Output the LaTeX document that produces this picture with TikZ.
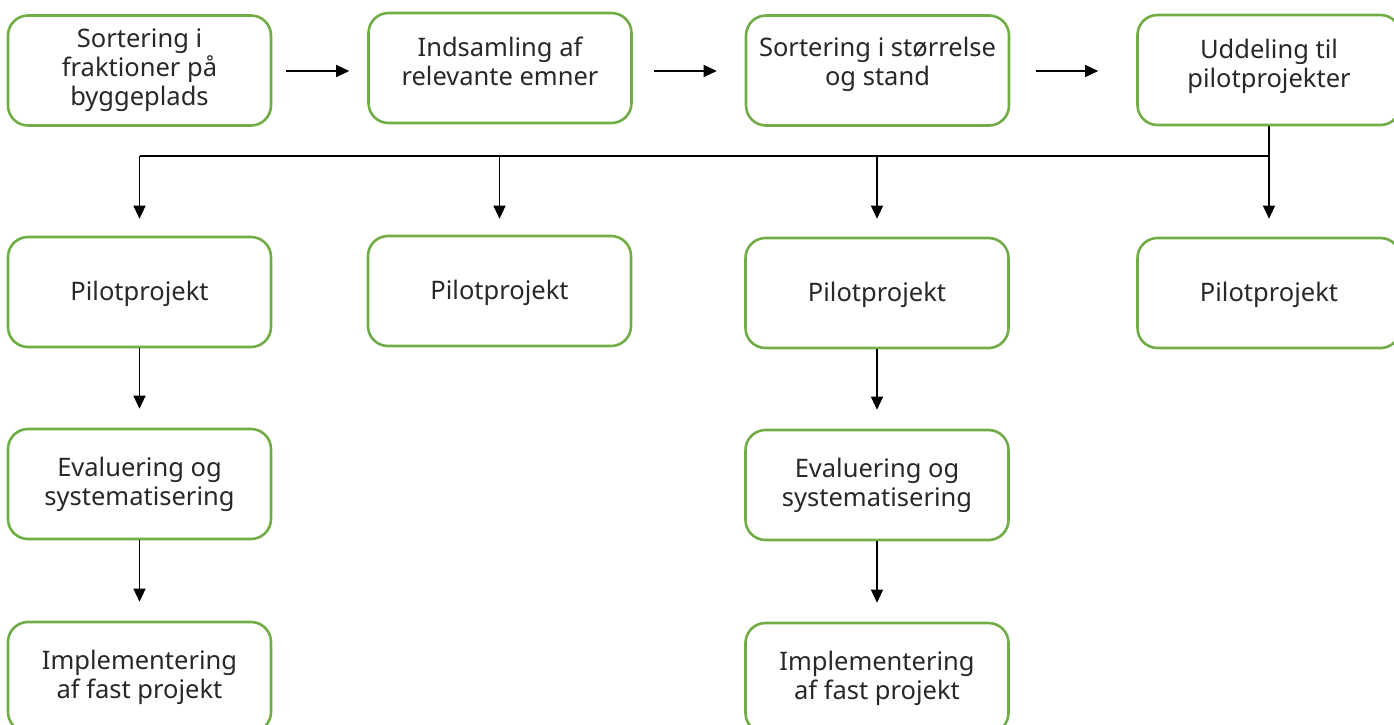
\documentclass[tikz,border=0pt]{standalone}
\usepackage{fontspec}
\setmainfont{Noto Sans}
\usetikzlibrary{arrows.meta,calc}
\definecolor{boxgreen}{RGB}{112,173,71}
\definecolor{txt}{RGB}{40,40,40}
\tikzset{
  box/.style={draw=boxgreen, line width=2.6pt, rounded corners=20pt, fill=white,
    minimum width=263pt, minimum height=110pt, inner sep=0pt, align=center,
    text=txt, font=\fontsize{25.5}{29}\selectfont},
  boxtext/.style={align=center, text=txt, font=\fontsize{25.5}{29}\selectfont, inner sep=0pt},
  arr/.style={draw=black, line width=1.2pt, -{Triangle[width=12pt,length=13pt]}},
  bus/.style={draw=black, line width=1.1pt}
}
\begin{document}
\begin{tikzpicture}[x=1pt,y=-1pt]
\useasboundingbox (0,0) rectangle (1394,724);
\clip (0,0) rectangle (1394,724);
\node[box] (b1) at (139.5,70.5) {Sortering i\\fraktioner på\\byggeplads};
\node[box, label={[boxtext,yshift=7pt]center:{Indsamling af\\relevante emner}}] (b2) at (500,68) {};
\node[box, label={[boxtext,yshift=6pt]center:{Sortering i størrelse\\og stand}}] (b3) at (877.5,70.5) {};
\node[box, label={[boxtext,yshift=4pt]center:{Uddeling til\\pilotprojekter}}] (b4) at (1269,70) {};
\node[box, label={[boxtext,yshift=-2pt]center:{Pilotprojekt}}] (p1) at (139.5,292) {};
\node[box, label={[boxtext,yshift=-2pt]center:{Pilotprojekt}}] (p2) at (499.5,291) {};
\node[box, label={[boxtext,yshift=-2pt]center:{Pilotprojekt}}] (p3) at (877,293) {};
\node[box, label={[boxtext,yshift=-2pt]center:{Pilotprojekt}}] (p4) at (1269,293) {};
\node[box] (e1) at (139.5,484) {Evaluering og\\systematisering};
\node[box] (e2) at (877,485) {Evaluering og\\systematisering};
\node[box] (i1) at (139.5,677) {Implementering\\af fast projekt};
\node[box] (i2) at (877,678) {Implementering\\af fast projekt};
\coordinate (busy) at (0,156);
% horizontal arrows
\draw[arr, shorten <=14pt, shorten >=18pt] ($(b1.east)+(0,0.5)$) -- ($(b1.east -| b2.west)+(0,0.5)$);
\draw[arr, shorten <=21pt, shorten >=28pt] ($(b2.east)+(0,3)$) -- ($(b2.east -| b3.west)+(0,3)$);
\draw[arr, shorten <=26pt, shorten >=38pt] ($(b3.east)+(0,0.5)$) -- ($(b3.east -| b4.west)+(0,0.5)$);
% bus
\draw[bus] (b4.south) -- (b4.south |- busy) -- (p1.north |- busy);
\draw[arr, shorten >=17pt] (p1.north |- busy) -- (p1.north);
\draw[arr, shorten >=16pt] (p2.north |- busy) -- (p2.north);
\draw[arr, shorten >=18pt] (p3.north |- busy) -- (p3.north);
\draw[arr, shorten >=18pt] (p4.north |- busy) -- (p4.north);
% vertical chains
\draw[arr, shorten >=19pt] (p1.south) -- (e1.north);
\draw[arr, shorten >=19pt] (e1.south) -- (i1.north);
\draw[arr, shorten >=19pt] (p3.south) -- (e2.north);
\draw[arr, shorten >=19pt] (e2.south) -- (i2.north);
\end{tikzpicture}
\end{document}
